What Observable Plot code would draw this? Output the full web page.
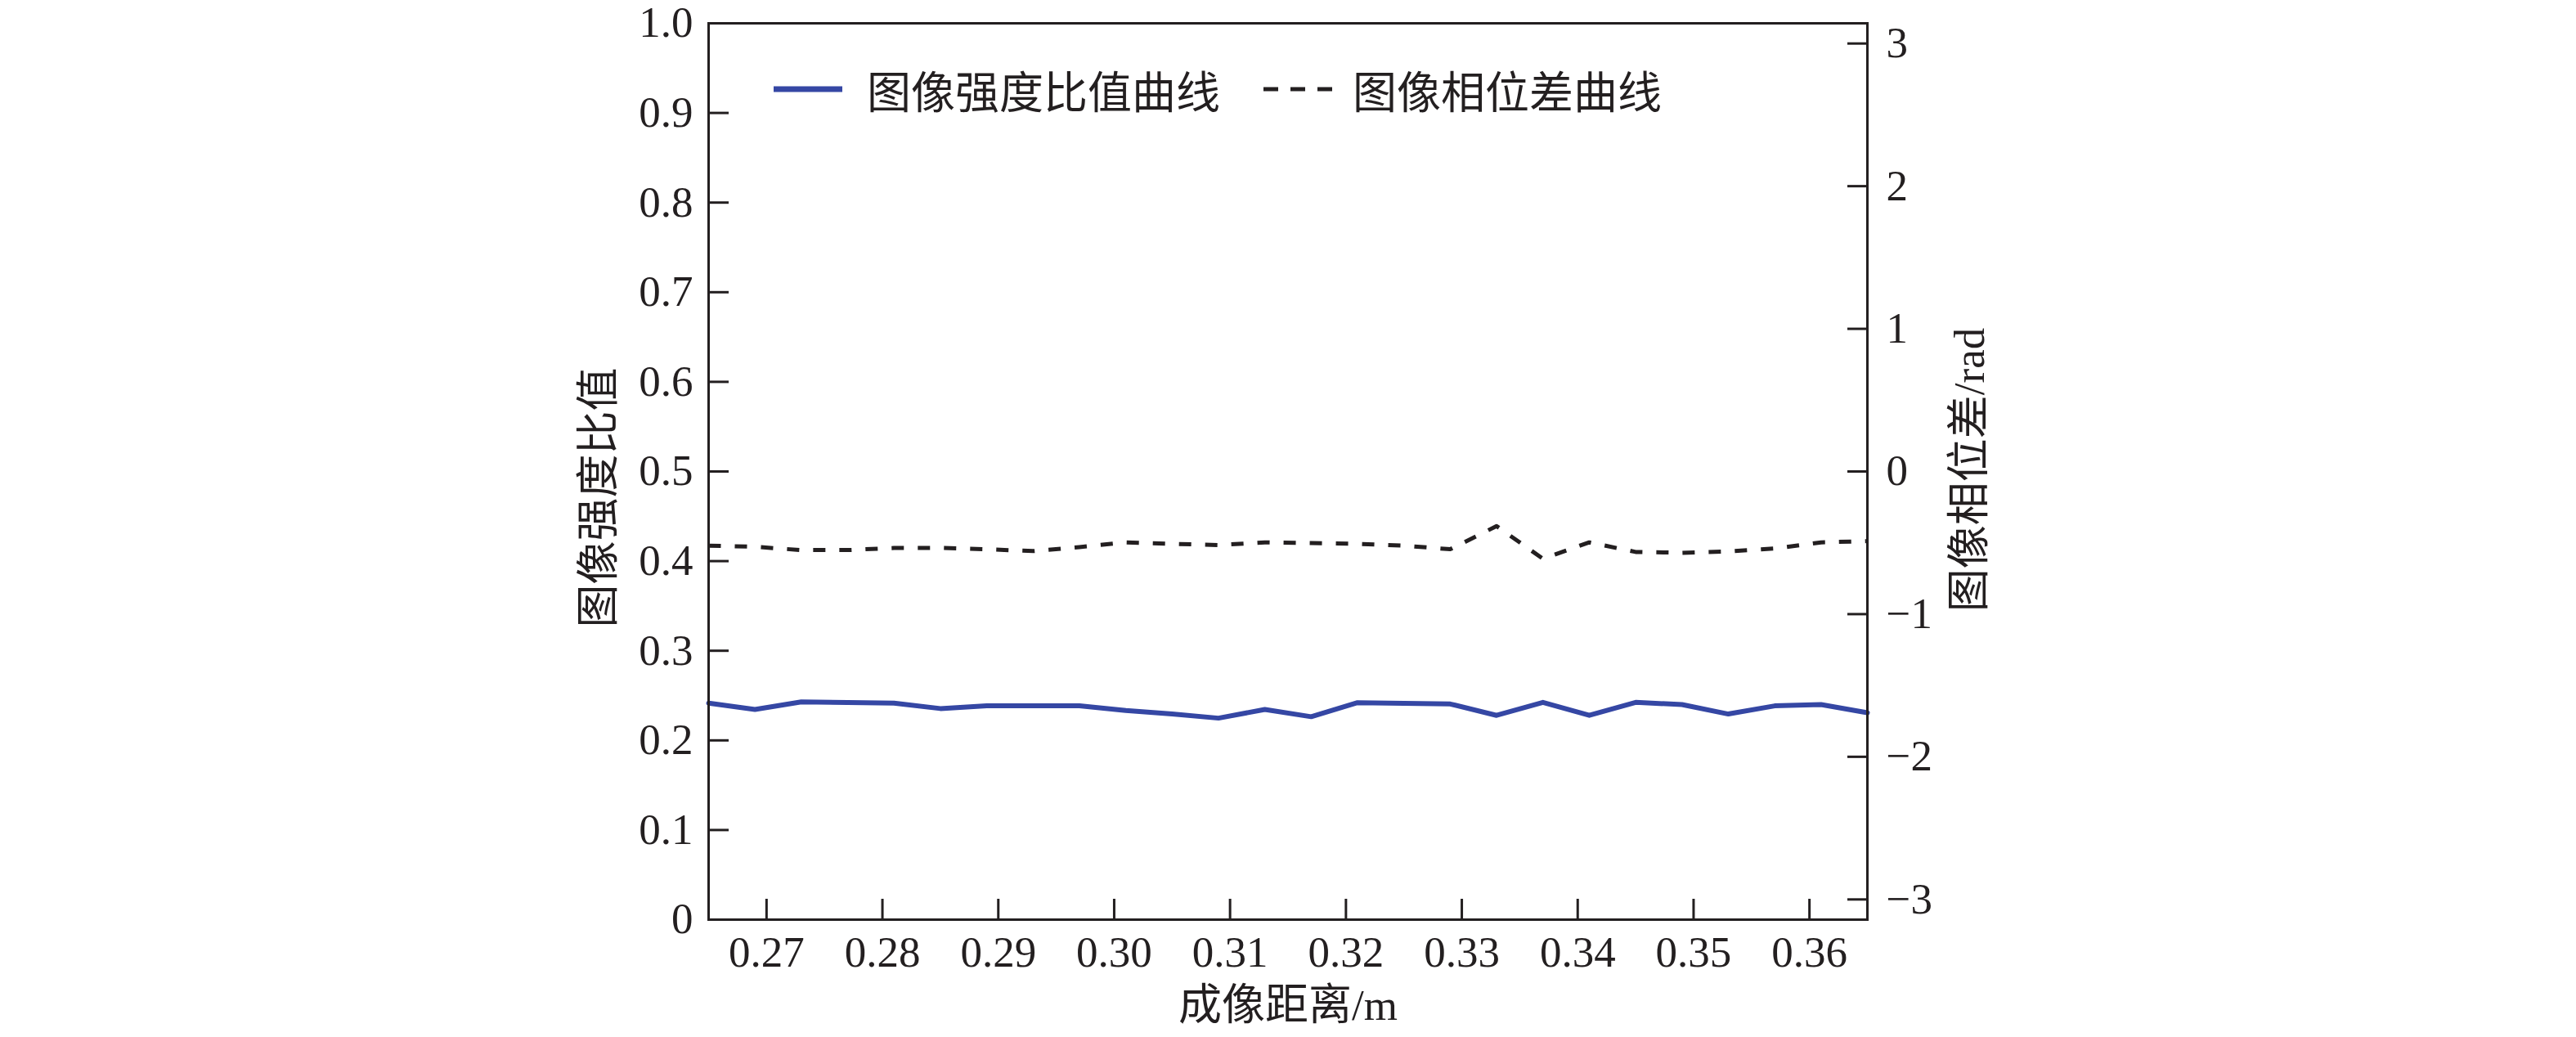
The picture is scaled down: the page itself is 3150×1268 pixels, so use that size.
<!DOCTYPE html>
<html><head><meta charset="utf-8">
<script src="https://cdn.jsdelivr.net/npm/d3@7"></script>
<script src="https://cdn.jsdelivr.net/npm/@observablehq/plot@0.6"></script>
<style>
html,body{margin:0;padding:0;background:#fff;overflow:hidden}
#wrap{position:relative;width:3150px;height:1268px}
</style></head><body><div id="wrap"></div>
<script>
// ---- data ----
const distance = [0.265,0.269,0.273,0.277,0.281,0.285,0.289,0.293,0.297,0.301,0.305,0.309,0.313,0.317,0.321,0.325,0.329,0.333,0.337,0.341,0.345,0.349,0.353,0.357,0.361,0.365];
const intensityRatio = [0.2415,0.2345,0.2430,0.2423,0.2415,0.2355,0.2385,0.2385,0.2385,0.2333,0.2295,0.2248,0.2345,0.2264,0.2421,0.2413,0.2406,0.2279,0.2424,0.2279,0.2424,0.2400,0.2294,0.2385,0.2400,0.2309];
const phaseDiff = [-0.520,-0.528,-0.551,-0.551,-0.536,-0.536,-0.545,-0.558,-0.530,-0.497,-0.507,-0.516,-0.497,-0.502,-0.507,-0.520,-0.545,-0.383,-0.612,-0.497,-0.564,-0.570,-0.560,-0.540,-0.497,-0.488];
const seriesNames = ["图像强度比值曲线", "图像相位差曲线"];
const xTicks = [0.27,0.28,0.29,0.30,0.31,0.32,0.33,0.34,0.35,0.36];
const leftTicks = [0,0.1,0.2,0.3,0.4,0.5,0.6,0.7,0.8,0.9,1.0];
const rightTicks = [-3,-2,-1,0,1,2,3];
const xTitle = "成像距离/m";
const leftTitle = "图像强度比值";
const rightTitle = "图像相位差/rad";

// right axis maps [-π, π] onto the left [0, 1] scale
const PHASE_MIN = -Math.PI, PHASE_MAX = Math.PI;
const p2y = p => (p - PHASE_MIN) / (PHASE_MAX - PHASE_MIN);
const y2p = y => y * (PHASE_MAX - PHASE_MIN) + PHASE_MIN;

const ratioData = distance.map((d, i) => ({x: d, y: intensityRatio[i]}));
const phaseData = distance.map((d, i) => ({x: d, y: p2y(phaseDiff[i])}));

const BLUE = "#3547a4";
const INK = "#231f20";
const SERIF = "'Liberation Serif', 'Noto Sans CJK SC', serif";
const CJK = "'Noto Sans CJK SC', sans-serif";
const FS = 53;
const TICK = 25;
const minus = v => (v < 0 ? "\u2212" + Math.abs(v) : String(v));

const W = 3150, H = 1268;
const mL = 866, mR = 867, mT = 28, mB = 144;

const chart = Plot.plot({
  width: W, height: H,
  marginLeft: mL, marginRight: mR, marginTop: mT, marginBottom: mB,
  style: {fontFamily: SERIF, fontSize: FS + "px", background: "#fff", color: INK},
  x: {domain: [0.265, 0.365]},
  y: {domain: [0, 1]},
  marks: [
    Plot.line(ratioData, {x: "x", y: "y", stroke: BLUE, strokeWidth: 6, strokeLinejoin: "round"}),
    Plot.line(phaseData, {x: "x", y: "y", stroke: INK, strokeWidth: 5, strokeDasharray: "15,17", strokeLinecap: "butt"}),
    Plot.frame({stroke: INK, strokeWidth: 3}),
    // bottom axis: inward ticks + labels
    Plot.axisX({anchor: "bottom", ticks: xTicks, tickSize: TICK, dy: -TICK, strokeWidth: 3, stroke: INK, tickFormat: () => "", label: null}),
    Plot.axisX({anchor: "bottom", ticks: xTicks, tickSize: 0, tickPadding: 20, tickFormat: d => d.toFixed(2), fontSize: FS, fontFamily: SERIF, fill: INK, label: null}),
    // left axis
    Plot.axisY({anchor: "left", ticks: leftTicks, tickSize: TICK, dx: TICK, strokeWidth: 3, stroke: INK, tickFormat: () => "", label: null}),
    Plot.axisY({anchor: "left", ticks: leftTicks, tickSize: 0, tickPadding: 19, tickFormat: d => d === 0 ? "0" : d.toFixed(1), fontSize: FS, fontFamily: SERIF, fill: INK, label: null}),
    // right axis (phase, rad)
    Plot.axisY({anchor: "right", ticks: rightTicks.map(p2y), tickSize: TICK, dx: -TICK, strokeWidth: 3, stroke: INK, tickFormat: () => "", label: null}),
    Plot.axisY({anchor: "right", ticks: rightTicks.map(p2y), tickSize: 0, tickPadding: 23, tickFormat: d => minus(Math.round(y2p(d))), fontSize: FS, fontFamily: SERIF, fill: INK, label: null}),
    // axis titles
    Plot.text([xTitle], {text: d => d, frameAnchor: "bottom", dy: 106, lineAnchor: "middle", textAnchor: "middle", fontSize: FS, fontFamily: SERIF, fill: INK}),
    Plot.text([leftTitle], {text: d => d, frameAnchor: "left", dx: -133, dy: 32, rotate: -90, lineAnchor: "middle", textAnchor: "middle", fontSize: FS, fontFamily: CJK, fill: INK}),
    Plot.text([rightTitle], {text: d => d, frameAnchor: "right", dx: 126, dy: -2, rotate: -90, lineAnchor: "middle", textAnchor: "middle", fontSize: FS, fontFamily: SERIF, fill: INK})
  ]
});

document.getElementById("wrap").appendChild(chart);

// legend inside the plot, top-left
const svg = d3.select(chart);
const lg = svg.append("g").attr("class", "legend").attr("text-anchor", "start");
const LY = 109;
lg.append("line").attr("x1", 946).attr("x2", 1030).attr("y1", LY).attr("y2", LY)
  .attr("stroke", BLUE).attr("stroke-width", 7);
lg.append("text").attr("x", 1060).attr("y", LY).attr("dominant-baseline", "central").attr("text-anchor", "start")
  .attr("font-family", CJK).attr("font-size", 54).attr("fill", INK).text(seriesNames[0]);
lg.append("line").attr("x1", 1545).attr("x2", 1630).attr("y1", LY).attr("y2", LY)
  .attr("stroke", INK).attr("stroke-width", 5).attr("stroke-dasharray", "18,15");
lg.append("text").attr("x", 1654).attr("y", LY).attr("dominant-baseline", "central").attr("text-anchor", "start")
  .attr("font-family", CJK).attr("font-size", 54).attr("fill", INK).text(seriesNames[1]);
</script></body></html>
